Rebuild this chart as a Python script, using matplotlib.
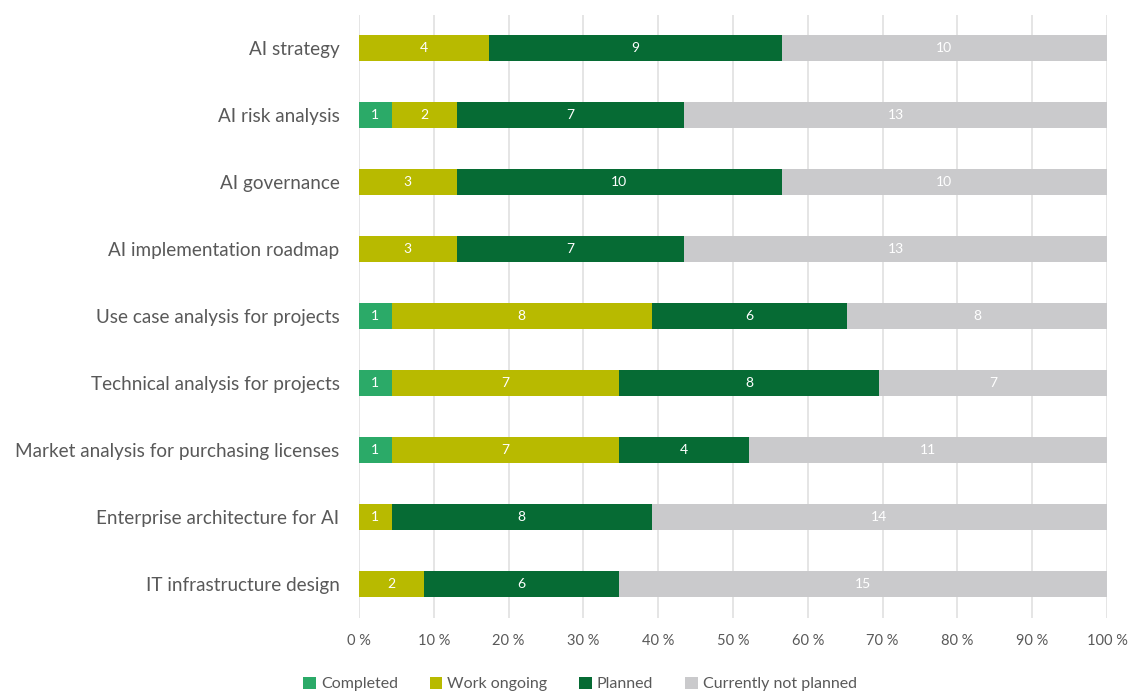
import matplotlib
matplotlib.use("Agg")
import matplotlib.pyplot as plt
import numpy as np

categories = ["AI strategy", "AI risk analysis", "AI governance", "AI implementation roadmap",
              "Use case analysis for projects", "Technical analysis for projects",
              "Market analysis for purchasing licenses", "Enterprise architecture for AI",
              "IT infrastructure design"]
series_names = ["Completed", "Work ongoing", "Planned", "Currently not planned"]
completed = [0, 1, 0, 0, 1, 1, 1, 0, 0]
ongoing = [4, 2, 3, 3, 8, 7, 7, 1, 2]
planned = [9, 7, 10, 7, 6, 8, 4, 8, 6]
not_planned = [10, 13, 10, 13, 8, 7, 11, 14, 15]
colors = ["#2BAA68", "#B8BA00", "#066B34", "#CACACC"]
tick_labels = [f"{v} %" for v in range(0, 101, 10)]

plt.rcParams['font.family'] = ['Lato', 'DejaVu Sans']
fig = plt.figure(figsize=(11.31, 6.93), dpi=100)
ax = fig.add_axes([359/1131, 1-617.5/693, (1107-359)/1131, (617.5-14.5)/693])

data = np.array([completed, ongoing, planned, not_planned], dtype=float)
totals = data.sum(axis=0)
pct = data / totals * 100
y = np.arange(len(categories))
left = np.zeros(len(categories))
for i, name in enumerate(series_names):
    ax.barh(y, pct[i], left=left, height=0.4, color=colors[i], label=name, zorder=3)
    for j in range(len(categories)):
        if data[i, j] > 0:
            ax.text(left[j] + pct[i, j]/2, y[j], f"{int(data[i, j])}", ha='center', va='center',
                    color='white', fontsize=10, zorder=4)
    left += pct[i]

ax.set_xlim(0, 100)
ax.set_ylim(len(categories)-0.5, -0.5)
ax.set_yticks(y)
ax.set_yticklabels(categories, fontsize=13.6, color='#595959')
ax.set_xticks(np.arange(0, 101, 10))
ax.set_xticklabels(tick_labels, fontsize=10.5, color='#595959')
ax.tick_params(axis='both', length=0)
ax.tick_params(axis='y', pad=14)
ax.tick_params(axis='x', pad=12)
ax.grid(axis='x', color='#E0E0E0', linewidth=1.2, zorder=0)
for s in ax.spines.values():
    s.set_visible(False)

fig.legend(loc='center', bbox_to_anchor=(580/1131, 1-684/693), ncol=4, frameon=False,
           fontsize=11.5, labelcolor='#595959', handlelength=0.8, handleheight=0.8,
           handletextpad=0.3, columnspacing=2.0, borderaxespad=0)
fig.savefig("out.png", dpi=100)
